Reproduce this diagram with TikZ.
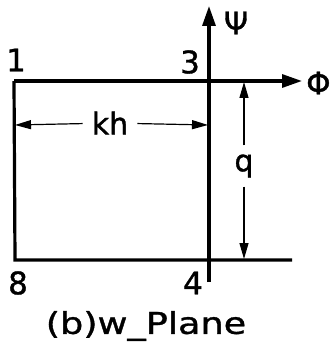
\documentclass[tikz,border=0pt]{standalone}
\usepackage{fontspec}
\setmainfont{DejaVu Sans}[FakeBold=1.2]
\newfontfamily\capfont[FakeStretch=1.22,FakeBold=1.2]{DejaVu Sans}
\usetikzlibrary{arrows.meta}
\begin{document}
\begin{tikzpicture}[x=1pt,y=-1pt,
  thick line/.style={line width=3.2pt},
  axis/.style={line width=3.2pt,-{Triangle[length=20pt,width=13pt]}},
  dim/.style={line width=1.2pt,-{Triangle[length=16pt,width=9pt]}},
  lbl/.style={font=\fontsize{31}{36}\selectfont,inner sep=0pt},
  dimlbl/.style={font=\fontsize{30}{34}\selectfont,inner sep=9pt}]
\useasboundingbox (0,0) rectangle (332,350);
% corners
\coordinate (c1) at (14,81);
\coordinate (c3) at (209,81);
\coordinate (c8) at (15,260);
\coordinate (c4) at (209,260);
\coordinate (ytop) at (209,6);
\coordinate (ybot) at (209,282);
\coordinate (xend) at (302,81);
\coordinate (bend) at (292,260);
\coordinate (khL) at (15,125);
\coordinate (khR) at (208,125);
\coordinate (qT) at (244,82);
\coordinate (qB) at (244,259);
% lines
\draw[thick line] (c1) -- (c8) -- (bend);
\draw[axis] (c1) -- (xend);
\draw[axis] (ybot) -- (ytop);
% labels
\node[lbl] (n1) at (16,60) {1};
\node[lbl] (n3) at (190,62) {3};
\node[lbl] (n8) at (18,283) {8};
\node[lbl] (n4) at (193,283) {4};
\node[lbl] (psi) at (236,23) {Ψ};
\node[lbl,anchor=west] (phi) at (306,83) {Φ};
% dimensions
\node[dimlbl] (kh) at (110,123) {kh};
\draw[dim] (kh) -- (khL);
\draw[dim] (kh) -- (khR);
\node[dimlbl] (q) at (244,166) {q};
\draw[dim] (q) -- (qT);
\draw[dim] (q) -- (qB);
% caption
\node[lbl,font=\fontsize{30}{34}\capfont] (cap) at (146,326) {(b)w\_Plane};
\end{tikzpicture}
\end{document}
